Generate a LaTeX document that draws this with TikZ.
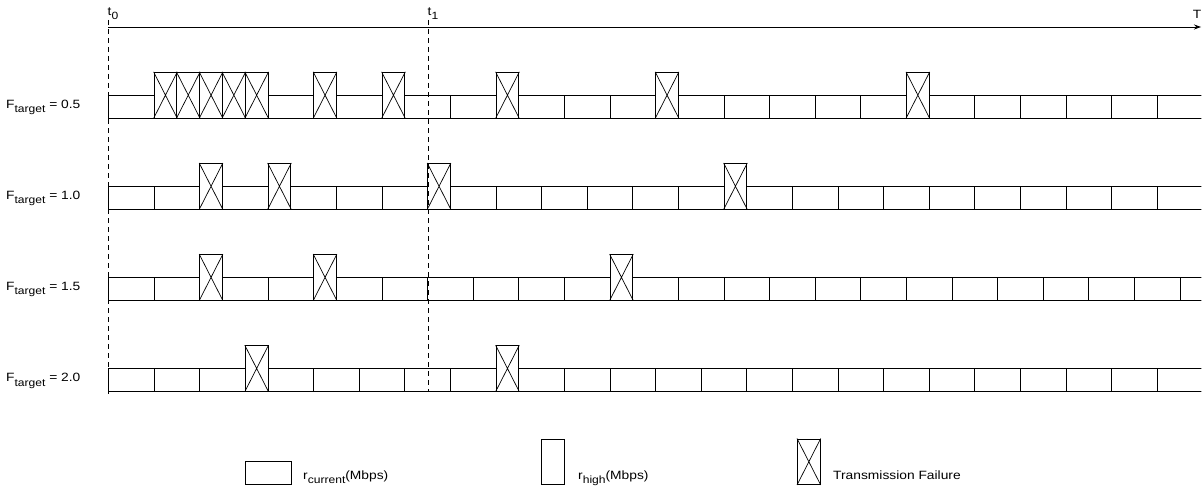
\documentclass[tikz,border=0pt]{standalone}
\usepackage{fontspec}
\setmainfont{Liberation Sans}
\usetikzlibrary{arrows.meta}
\newcommand{\subtxt}[1]{\raisebox{-4.2pt}{\fontsize{10.5}{12}\selectfont #1}}
\newcommand{\wtxt}[1]{\scalebox{1.15}[1]{#1}}
\tikzset{
  normbox/.style={draw, line width=0.9pt, inner sep=0pt, minimum width=45.6pt, minimum height=22.8pt, anchor=south west},
  failbox/.style={draw, line width=0.9pt, inner sep=0pt, minimum width=22.8pt, minimum height=45.6pt, anchor=south west},
  crossline/.style={line width=0.7pt},
  tdashed/.style={line width=0.7pt, dash pattern=on 5pt off 4pt},
  lbl/.style={font=\fontsize{12}{14}\selectfont, inner sep=0pt},
}
\newcommand{\tlrow}[3]{%
  \xdef\curx{108}%
  \foreach \s [count=\i] in {#3}{%
    \ifnum\s=1
      \node[normbox] (#1-\i) at (\curx,#2) {};
      \pgfmathsetmacro\nx{\curx+45.6}%
    \else
      \node[failbox] (#1-\i) at (\curx,#2) {};
      \draw[crossline] (#1-\i.south west) -- (#1-\i.north east) (#1-\i.north west) -- (#1-\i.south east);
      \pgfmathsetmacro\nx{\curx+22.8}%
    \fi
    \xdef\curx{\nx}%
  }%
}
\begin{document}
\begin{tikzpicture}[x=1pt, y=-1pt]
\useasboundingbox[fill=white] (0,0) rectangle (1202,487);
% rows
\begin{scope}
\clip (0,0) rectangle (1201.3,487);
\tlrow{ra}{118.4}{1,2,2,2,2,2,1,2,1,2,1,1,2,1,1,1,2,1,1,1,1,1,2,1,1,1,1,1,1}
\tlrow{rb}{209.5}{1,1,2,1,2,1,1,1,2,1,1,1,1,1,1,2,1,1,1,1,1,1,1,1,1,1}
\tlrow{rc}{300.6}{1,1,2,1,1,2,1,1,1,1,1,1,2,1,1,1,1,1,1,1,1,1,1,1,1,1}
\tlrow{rd}{391.7}{1,1,1,2,1,1,1,1,1,2,1,1,1,1,1,1,1,1,1,1,1,1,1,1,1}
\end{scope}
% row labels
\node[lbl, anchor=base west] (la) at (6,108.5) {\wtxt{F\subtxt{target} = 0.5}};
\node[lbl, anchor=base west] (lb) at (6,199.6) {\wtxt{F\subtxt{target} = 1.0}};
\node[lbl, anchor=base west] (lc) at (6,290.7) {\wtxt{F\subtxt{target} = 1.5}};
\node[lbl, anchor=base west] (ld) at (6,381.8) {\wtxt{F\subtxt{target} = 2.0}};
% time axis
\coordinate (a0) at (108,27);
\coordinate (aT) at (1201,27);
\draw[line width=0.8pt, -{Stealth[length=7pt,width=5pt]}] (a0) -- (aT);
\node[lbl, anchor=base west] (t0) at (107.5,15.5) {\wtxt{t\subtxt{0}}};
\node[lbl, anchor=base west] (t1) at (427.5,15.5) {\wtxt{t\subtxt{1}}};
\node[lbl, anchor=base east] (T) at (1201.5,19) {\wtxt{T}};
% dashed markers
\coordinate (d0a) at (108,20);
\coordinate (d0b) at (108,396);
\coordinate (d1a) at (428,20);
\coordinate (d1b) at (428,392);
\draw[tdashed] (d0a) -- (d0b);
\draw[tdashed] (d1a) -- (d1b);
% legend
\node[normbox] (lg1) at (245,485) {};
\node[lbl, anchor=base west] (lg1t) at (303,479) {\wtxt{r\subtxt{current}(Mbps)}};
\node[failbox] (lg2) at (541,485) {};
\node[lbl, anchor=base west] (lg2t) at (578,479) {\wtxt{r\subtxt{high}(Mbps)}};
\node[failbox] (lg3) at (797,485) {};
\draw[crossline] (lg3.south west) -- (lg3.north east) (lg3.north west) -- (lg3.south east);
\node[lbl, anchor=base west] (lg3t) at (833,479) {\wtxt{Transmission Failure}};
\end{tikzpicture}
\end{document}
